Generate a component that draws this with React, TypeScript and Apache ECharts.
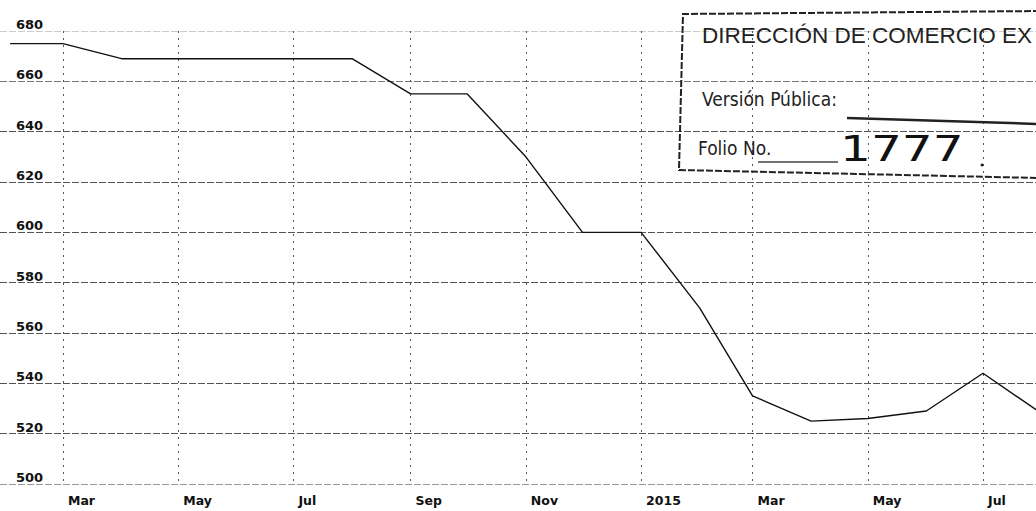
import React, { useEffect, useRef } from "react";
import * as echarts from "echarts";

// Monthly observations (first day of each month)
const months = [
  "2014-02", "2014-03", "2014-04", "2014-05", "2014-06", "2014-07", "2014-08",
  "2014-09", "2014-10", "2014-11", "2014-12", "2015-01", "2015-02", "2015-03",
  "2015-04", "2015-05", "2015-06", "2015-07", "2015-08",
];
const values = [
  675, 675, 669, 669, 669, 669, 669,
  655, 655, 630, 600, 600, 570, 535,
  525, 526, 529, 544, 528,
];

// X-axis tick months (labels: month abbreviations, year at January)
const xTickMonths = [
  "2014-03", "2014-05", "2014-07", "2014-09", "2014-11",
  "2015-01", "2015-03", "2015-05", "2015-07",
];
const monthNames = ["Jan", "Feb", "Mar", "Apr", "May", "Jun", "Jul", "Aug", "Sep", "Oct", "Nov", "Dec"];

const yMin = 500;
const yMax = 680;
const yStep = 20;

// Stamp texts (the scanned stamp is cut at the right edge)
const stampTitle = "DIRECCIÓN DE COMERCIO EX";
const stampVersion = "Versión Pública:";
const stampFolio = "Folio No.";
const stampFolioNumber = "1777";

const toTs = (s: string) => Date.UTC(+s.slice(0, 4), +s.slice(5, 7) - 1, 1);

export default function App() {
  const ref = useRef<HTMLDivElement>(null);

  useEffect(() => {
    if (!ref.current) return;
    const chart = echarts.init(ref.current, null, { renderer: "svg" });

    const DAY = 86400000;
    const pxPerDay = 920 / 487;
    const xMin = toTs("2014-03") - (63 / pxPerDay) * DAY;
    const xMax = toTs("2015-07") + ((1036 - 983) / pxPerDay) * DAY;
    const tickVals = xTickMonths.map(toTs);

    chart.setOption({
      animation: false,
      backgroundColor: "#ffffff",
      grid: { left: 0, right: 0, top: 31, bottom: 27, containLabel: false, outerBoundsMode: "none" },
      xAxis: {
        type: "value",
        min: xMin,
        max: xMax,
        axisLine: { show: false },
        axisTick: { show: true, length: 0, customValues: tickVals, lineStyle: { color: "rgba(0,0,0,0)" } },
        axisLabel: {
          customValues: tickVals,
          formatter: (v: number) => {
            const d = new Date(v);
            return d.getUTCMonth() === 0 ? String(d.getUTCFullYear()) : monthNames[d.getUTCMonth()];
          },
          align: "left",
          padding: [0, 0, 0, 5],
          margin: 10,
          fontFamily: "DejaVu Sans",
          fontWeight: "bold",
          fontSize: 12.5,
          color: "#111",
        },
        splitLine: {
          show: true,
          lineStyle: { color: "#555", width: 1, type: [2, 5] },
        },
      },
      yAxis: {
        type: "value",
        min: yMin,
        max: yMax,
        interval: yStep,
        axisLine: { show: false },
        axisTick: { show: false },
        axisLabel: {
          inside: true,
          margin: 16,
          verticalAlign: "bottom",
          fontFamily: "DejaVu Sans",
          fontWeight: "bold",
          fontSize: 13,
          color: "#111",
        },
        splitLine: {
          show: true,
          lineStyle: {
            color: ["#999", "#555", "#555", "#555", "#555", "#555", "#555", "#555", "#777", "#ccc"],
            width: 1,
            type: [7, 2],
          },
        },
      },
      series: [
        {
          type: "line",
          data: months.map((m, i) => [toTs(m), values[i]]),
          showSymbol: false,
          symbol: "none",
          lineStyle: { color: "#111", width: 1.4 },
          z: 5,
        },
      ],
      graphic: [
        {
          type: "polyline",
          shape: { points: [[1040, 11], [683, 14], [679, 170], [1040, 178]] },
          style: { fill: "none", stroke: "#222", lineWidth: 2, lineDash: [7, 2] },
          z: 10,
        },
        {
          type: "text",
          x: 702,
          y: 24,
          style: {
            text: stampTitle,
            font: "22.5px 'Liberation Sans', Arial, sans-serif",
            fill: "#222",
          },
          z: 10,
        },
        {
          type: "text",
          x: 702,
          y: 89,
          style: {
            text: stampVersion,
            font: "19px 'Liberation Sans Narrow', 'DejaVu Sans Condensed', sans-serif",
            fill: "#222",
          },
          z: 10,
        },
        {
          type: "line",
          shape: { x1: 847, y1: 118, x2: 1040, y2: 124 },
          style: { stroke: "#222", lineWidth: 2.5 },
          z: 10,
        },
        {
          type: "text",
          x: 698,
          y: 138,
          style: {
            text: stampFolio,
            font: "19px 'Liberation Sans Narrow', 'DejaVu Sans Condensed', sans-serif",
            fill: "#222",
          },
          z: 10,
        },
        {
          type: "line",
          shape: { x1: 758, y1: 162, x2: 838, y2: 162 },
          style: { stroke: "#444", lineWidth: 1.5 },
          z: 10,
        },
        {
          type: "text",
          x: 840,
          y: 130,
          scaleX: 1.35,
          style: {
            text: stampFolioNumber,
            font: "36px 'DejaVu Sans', sans-serif",
            fill: "#111",
          },
          z: 10,
        },
        {
          type: "circle",
          shape: { cx: 982, cy: 165, r: 1.5 },
          style: { fill: "#222" },
          z: 10,
        },
      ],
    });

    return () => chart.dispose();
  }, []);

  return (
    <div
      ref={ref}
      style={{ position: "absolute", left: 0, top: 0, width: 1036, height: 511 }}
    />
  );
}
